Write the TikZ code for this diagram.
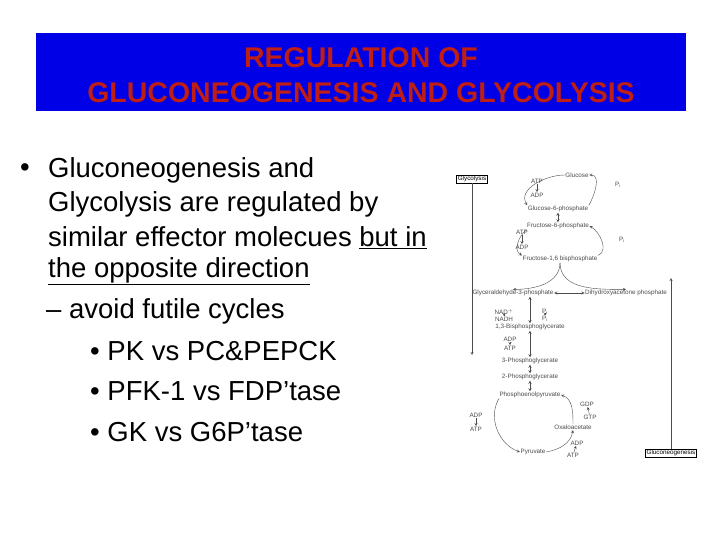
\documentclass[tikz,border=0pt]{standalone}
\usepackage{fontspec}
\setmainfont{Liberation Sans}
\definecolor{hdrblue}{RGB}{0,0,230}
\definecolor{hdrred}{RGB}{190,30,20}
\begin{document}
\begin{tikzpicture}[x=1pt,y=-1pt,
  bul/.style={anchor=west,font=\fontsize{27.5}{30}\selectfont,inner sep=0},
  sm/.style={font=\fontsize{6.3}{7}\selectfont,text=black!70,inner sep=0.5pt},
  lbl/.style={draw,font=\fontsize{6.3}{7}\selectfont,inner sep=1.2pt},
  ar/.style={->,>=stealth,black!70,line width=0.4pt}]
\useasboundingbox (0,0) rectangle (720,540);
\fill[white] (0,0) rectangle (720,540);
\fill[hdrblue] (36,33) rectangle (686,111);
\node[inner sep=0,align=center,text=hdrred,font=\bfseries\fontsize{28.5}{35}\selectfont] (title) at (361,75)
  {REGULATION OF\\GLUCONEOGENESIS AND GLYCOLYSIS};
\node[bul] (b0) at (20,170) {•};
\node[bul] (l1) at (48,170) {Gluconeogenesis and};
\node[bul] (l2) at (48,204) {Glycolysis are regulated by};
\node[bul] (l3) at (48,238) {similar effector molecues \underline{but in}};
\node[bul] (l4) at (48,271) {\underline{the opposite direction}};
\node[bul] (l5) at (46,311) {– avoid futile cycles};
\node[bul] (l6) at (90,351) {• PK vs PC\&PEPCK};
\node[bul] (l7) at (90,391) {• PFK-1 vs FDP’tase};
\node[bul] (l8) at (90,432) {• GK vs G6P’tase};
% diagram
\node[lbl] (gly) at (472,179) {Glycolysis};
\node[lbl] (gng) at (671,453) {Gluconeogenesis};
\coordinate (gend) at (472,355);
\coordinate (nend) at (671,278);
\draw[ar] (gly) -- (gend);
\draw[ar] (gng) -- (nend);
\node[sm] (glc) at (577,175) {Glucose};
\node[sm] (g6p) at (558,209) {Glucose-6-phosphate};
\node[sm] (f6p) at (558,226) {Fructose-6-phosphate};
\node[sm] (fbp) at (560,259) {Fructose-1,6 bisphosphate};
\node[sm] (gap) at (513,293) {Glyceraldehyde-3-phosphate};
\node[sm] (dhap) at (626,293) {Dihydroxyacetone phosphate};
\node[sm] (bpg) at (530,327) {1,3-Bisphosphoglycerate};
\node[sm] (pg3) at (530,361) {3-Phosphoglycerate};
\node[sm] (pg2) at (530,377) {2-Phosphoglycerate};
\node[sm] (pep) at (530,395) {Phosphoenolpyruvate};
\node[sm] (oaa) at (573,427) {Oxaloacetate};
\node[sm] (pyr) at (533,452) {Pyruvate};
\node[sm] (atp1) at (537,181) {ATP}; \node[sm] (adp1) at (537,195) {ADP};
\node[sm] (pi1) at (618,185) {P$_\mathrm{i}$};
\node[sm] (atp2) at (522,232) {ATP}; \node[sm] (adp2) at (522,247) {ADP};
\node[sm] (pi2) at (622,240) {P$_\mathrm{i}$};
\node[sm] (nad) at (504,312) {NAD$^+$}; \node[sm] (nadh) at (504,319) {NADH};
\node[sm] (pia) at (545,312) {P$_\mathrm{i}$}; \node[sm] (pib) at (545,319) {P$_\mathrm{i}$};
\node[sm] (adp3) at (510,339) {ADP}; \node[sm] (atp3) at (510,348) {ATP};
\node[sm] (adp4) at (476,415) {ADP}; \node[sm] (atp4) at (476,429) {ATP};
\node[sm] (gdp) at (587,404) {GDP}; \node[sm] (gtp) at (590,417) {GTP};
\node[sm] (adp5) at (577,443) {ADP}; \node[sm] (atp5) at (573,455) {ATP};
% cycles
\draw[ar] (glc.west) to[out=180,in=120] (g6p.north west);
\draw[ar] (g6p.north east) to[out=60,in=0] (glc.east);
\draw[ar] (f6p.south west) to[out=220,in=150] (fbp.north west);
\draw[ar] (fbp.north east) to[out=20,in=-30] (f6p.east);
\draw[ar,<->] (g6p) -- (f6p);
\draw[ar] (fbp.south) to[out=-90,in=0] (gap.north);
\draw[ar] (fbp.south) to[out=-90,in=180] (dhap.north);
\draw[ar,<->] (gap) -- (dhap);
\draw[ar,<->] (gap.south -| bpg) -- (bpg);
\draw[ar,<->] (bpg) -- (pg3);
\draw[ar,<->] (pg3) -- (pg2);
\draw[ar,<->] (pg2) -- (pep);
\draw[ar] (pep.south west) to[out=-120,in=160] (pyr.west);
\draw[ar] (pyr.east) to[out=10,in=-100] (oaa.south);
\draw[ar] (oaa.north) to[out=90,in=-20] (pep.east);
\draw[ar] (atp1) -- (adp1); \draw[ar] (atp2) -- (adp2);
\draw[ar] (adp4) -- (atp4); \draw[ar] (gtp) -- (gdp);
\draw[ar] (atp5) -- (adp5); \draw[ar] (adp3) -- (atp3);
\draw[ar] (nad) -- (nadh); \draw[ar] (pia) -- (pib);
\end{tikzpicture}
\end{document}
